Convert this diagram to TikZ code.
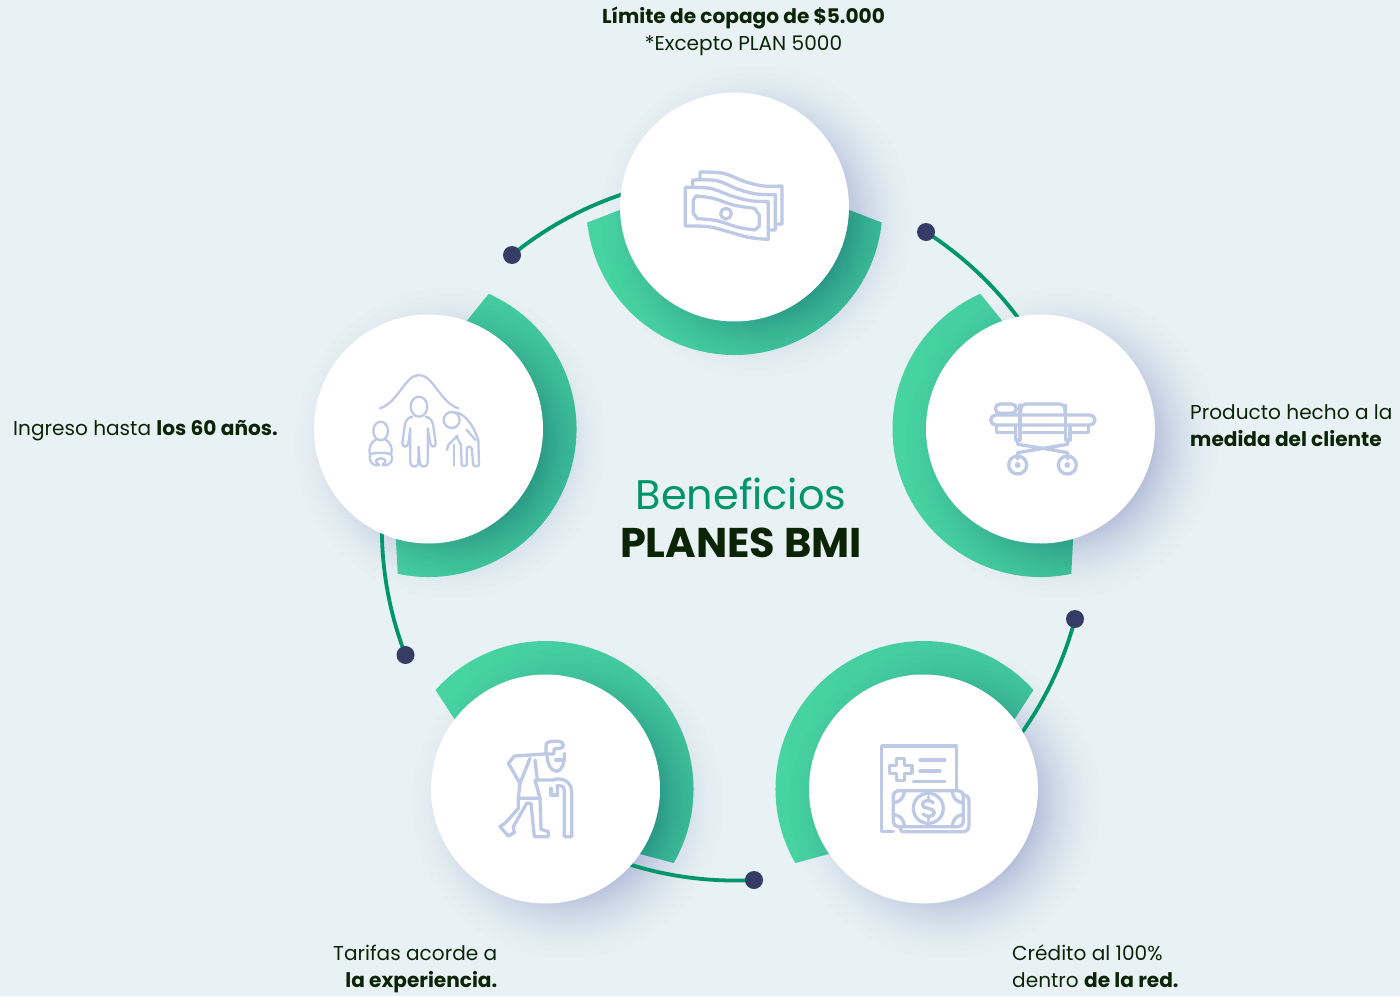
\documentclass[tikz,border=0pt]{standalone}
\usepackage{fontspec}
\setmainfont{Poppins}
\usetikzlibrary{calc}
\definecolor{bgc}{HTML}{E8F2F4}
\definecolor{greenl}{HTML}{48D4A2}
\definecolor{greenr}{HTML}{42C89E}
\definecolor{linec}{HTML}{00966B}
\definecolor{dotc}{HTML}{353D66}
\definecolor{shadowc}{HTML}{1B2F9F}
\definecolor{ringshade}{HTML}{000041}
\definecolor{icoc}{HTML}{BEC9E6}
\definecolor{inkc}{HTML}{0B2406}
\tikzset{
  disc/.style={circle,fill=white,minimum size=229pt,inner sep=0pt},
  dotn/.style={circle,fill=dotc,minimum size=18pt,inner sep=0pt},
  conn/.style={linec,line width=3.8pt},
  ringg/.style={left color=greenl,right color=greenr,draw=none},
  ico/.style={icoc,line width=3.3pt,line cap=round,line join=round},
  icothin/.style={icoc,line width=2.3pt,line cap=round,line join=round},
  lab/.style={font=\fontsize{20.1}{24}\selectfont,text=inkc,inner sep=0pt},
}
\newcommand{\ringpath}[3]{($(#1)+(#2:148)$) arc[start angle=#2,end angle=#3,radius=148]
     -- ($(#1)+({#3+8}:98)$) arc[start angle={#3+8},end angle={#2-8},radius=98] -- cycle}
\newcommand{\shadowat}[2]{%
  \foreach \i in {1,...,25}{\pgfmathsetmacro{\r}{172-82*sqrt(\i/25)}\fill[#2,opacity=.0078] ($(#1)+(22,14)$) circle[radius=\r];}
}
\newcommand{\ringat}[3]{%
  \path[ringg] \ringpath{#1}{#2}{#3};
  \begin{scope}\clip \ringpath{#1}{#2}{#3};\shadowat{#1}{ringshade}\end{scope}
}
\begin{document}
\begin{tikzpicture}[x=1pt,y=-1pt]
\useasboundingbox (0,0) rectangle (1400,996);
\fill[bgc] (0,0) rectangle (1400,996);
\coordinate (p1) at (734.5,207);
\coordinate (p2) at (1040.5,429);
\coordinate (p3) at (923.5,789);
\coordinate (p4) at (545.5,789);
\coordinate (p5) at (428.5,429);
\coordinate (d1) at (512,255);
\coordinate (d2) at (926,232);
\coordinate (d3) at (1075,619);
\coordinate (d4) at (754,880);
\coordinate (d5) at (405.5,655);
\shadowat{p1}{shadowc}\shadowat{p2}{shadowc}\shadowat{p3}{shadowc}\shadowat{p4}{shadowc}\shadowat{p5}{shadowc}
\ringat{p1}{6}{174}
\ringat{p2}{78}{246}
\ringat{p3}{150}{318}
\ringat{p4}{222}{390}
\ringat{p5}{-66}{102}
\draw[conn] (d1) arc[start angle=230.9,end angle=262,radius=353];
\draw[conn] (d2) arc[start angle=302.7,end angle=334,radius=353];
\draw[conn] (d3) arc[start angle=14.8,end angle=46,radius=353];
\draw[conn] (d4) arc[start angle=86.9,end angle=118,radius=353];
\draw[conn] (d5) arc[start angle=158.9,end angle=190,radius=353];
\node[disc] (c1) at (p1) {};
\node[disc] (c2) at (p2) {};
\node[disc] (c3) at (p3) {};
\node[disc] (c4) at (p4) {};
\node[disc] (c5) at (p5) {};
\node[dotn] (n1) at (d1) {};
\node[dotn] (n2) at (d2) {};
\node[dotn] (n3) at (d3) {};
\node[dotn] (n4) at (d4) {};
\node[dotn] (n5) at (d5) {};
% money
\begin{scope}[shift={(660,150)},x=.3333pt,y=-.3333pt]
\draw[ico] plot[smooth,tension=.55] coordinates {(76,112)(150,115)(215,138)(270,152)(325,155)} -- (325,268)
  -- plot[smooth,tension=.55] coordinates {(325,268)(265,262)(205,245)(145,230)(76,228)} -- cycle;
\draw[ico] plot[smooth,tension=.55] coordinates {(108,138)(160,145)(220,165)(283,175)} -- (298,195) -- (298,228) -- (285,240)
  -- plot[smooth,tension=.55] coordinates {(285,240)(235,232)(170,212)(112,206)} -- (100,190) -- (100,150) -- cycle;
\draw[ico] (198,191) circle[radius=16];
\draw[ico] (98,108) -- (98,90) -- plot[smooth,tension=.55] coordinates {(98,90)(170,92)(235,118)(290,132)(346,134)} -- (346,240) -- (327,240);
\draw[ico] (120,88) -- (120,66) -- plot[smooth,tension=.55] coordinates {(120,66)(190,70)(255,95)(310,108)(366,108)} -- (366,222) -- (347,222);
\end{scope}
% stretcher
\begin{scope}[shift={(975,385)},x=.3333pt,y=-.3333pt]
\draw[ico] (75,57) -- (110,57) arc[start angle=-90,end angle=90,radius=14] -- (75,85) arc[start angle=90,end angle=270,radius=14];
\draw[ico] (137,88) -- (137,72) arc[start angle=180,end angle=270,radius=15] -- (255,57) arc[start angle=270,end angle=360,radius=15] -- (270,88);
\draw[ico] (62,90) -- (345,90) arc[start angle=-90,end angle=90,radius=15] -- (62,120) arc[start angle=90,end angle=270,radius=15];
\draw[ico] (65,122) -- (65,143) -- (122,143);
\draw[ico] (340,122) -- (340,143) -- (285,143);
\draw[ico] (122,120) -- (122,165) -- (135,165) -- (135,60);
\draw[ico] (272,60) -- (272,165) -- (285,165) -- (285,120);
\draw[ico] (135,143) -- (272,143);
\draw[ico] (128,165) -- (128,178) -- (205,190) -- (128,203) -- (128,222);
\draw[ico] (278,165) -- (278,178) -- (205,190) -- (278,203) -- (278,222);
\draw[ico] (128,240) circle[radius=27];
\draw[ico] (277,240) circle[radius=27];
\fill[icoc] (128,240) circle[radius=9];
\fill[icoc] (277,240) circle[radius=9];
\end{scope}
% document and money
\begin{scope}[shift={(865,730)},x=.3333pt,y=-.3333pt]
\draw[ico] (85,305) -- (50,305) -- (50,48) -- (275,48) -- (275,178);
\draw[ico] (95,85) -- (119,85) -- (119,106) -- (141,106) -- (141,130) -- (119,130) -- (119,152) -- (95,152) -- (95,130) -- (73,130) -- (73,106) -- (95,106) -- cycle;
\draw[ico] (165,90) -- (240,90) (165,123) -- (225,123) (145,155) -- (240,155);
\draw[ico] (100,182) -- (280,182) arc[start angle=-90,end angle=0,radius=15] -- (295,275) arc[start angle=0,end angle=90,radius=15] -- (100,290) arc[start angle=90,end angle=180,radius=15] -- (85,197) arc[start angle=180,end angle=270,radius=15];
\draw[ico] (295,195) .. controls (305,195) and (312,202) .. (312,212) -- (312,285) .. controls (312,298) and (305,305) .. (295,305) -- (110,305) -- (105,292);
\draw[ico] (190,235) circle[radius=45];
\draw[ico] (205,218) .. controls (195,208) and (172,210) .. (172,224) .. controls (172,238) and (208,232) .. (208,247) .. controls (208,262) and (184,262) .. (174,252);
\draw[ico] (190,200) -- (190,208) (190,262) -- (190,270);
\draw[ico] (88,218) .. controls (104,216) and (116,204) .. (118,186);
\draw[ico] (292,218) .. controls (276,216) and (264,204) .. (262,186);
\draw[ico] (88,254) .. controls (104,256) and (116,268) .. (118,286);
\draw[ico] (292,254) .. controls (276,256) and (264,268) .. (262,286);
\end{scope}
% elder
\begin{scope}[shift={(485,730)},x=.3333pt,y=-.3333pt]
\draw[ico] (183,72) -- (183,48) .. controls (183,38) and (190,34) .. (198,34) -- (222,34) .. controls (238,34) and (240,56) .. (222,56) -- (208,56) -- (206,72) -- (183,72);
\draw[ico] (186,78) .. controls (188,100) and (195,122) .. (215,124) .. controls (232,122) and (238,100) .. (238,70);
\draw[ico] (212,90) -- (238,90);
\draw[ico] (180,72) -- (88,78) -- (70,100) -- (105,160) -- (135,85);
\draw[ico] (105,160) -- (100,205) -- (165,205);
\draw[ico] (150,90) -- (157,150) -- (205,150);
\draw[ico] (150,150) -- (165,205);
\draw[ico] (205,150) .. controls (230,140) and (260,155) .. (260,185) -- (260,320) -- (238,320) -- (238,180) .. controls (238,168) and (225,165) .. (215,168);
\draw[ico] (198,175) -- (198,195) -- (218,195) -- (218,172);
\draw[ico] (100,205) -- (100,235) -- (62,278) -- (45,290) -- (70,318) -- (88,308) -- (85,290) -- (125,220) -- (138,220) -- (148,320) -- (190,320) -- (190,305) -- (168,298) -- (165,205);
\end{scope}
% family
\begin{scope}[shift={(355,365)},x=.3333pt,y=-.3333pt]
\draw[icothin] (75,130) .. controls (130,112) and (150,30) .. (192,30) .. controls (235,30) and (255,112) .. (310,130);
\draw[icothin] (192,125) ellipse[x radius=25,y radius=30];
\draw[icothin] (172,155) .. controls (155,158) and (150,170) .. (148,190) -- (142,235) .. controls (142,248) and (158,248) .. (160,235) -- (166,190) -- (166,290) .. controls (166,310) and (190,310) .. (190,290) -- (191,245) -- (194,290) .. controls (194,310) and (218,310) .. (218,290) -- (218,190) -- (226,235) .. controls (228,248) and (242,248) .. (242,235) -- (236,190) .. controls (234,170) and (228,158) .. (212,155);
\draw[icothin] (77,198) ellipse[x radius=22,y radius=28];
\draw[icothin] (62,224) .. controls (45,232) and (40,255) .. (45,268) .. controls (40,285) and (50,305) .. (72,300) .. controls (62,290) and (55,285) .. (77,280) .. controls (100,285) and (92,290) .. (82,300) .. controls (105,305) and (118,285) .. (108,268) .. controls (114,255) and (108,232) .. (92,224);
\draw[icothin] (45,268) .. controls (60,262) and (95,262) .. (108,268);
\draw[icothin] (290,165) circle[radius=24];
\draw[icothin] (300,142) .. controls (330,145) and (355,180) .. (370,225) -- (372,300) .. controls (370,305) and (358,305) .. (355,300) -- (350,250) .. controls (345,240) and (335,245) .. (335,255) -- (335,300) .. controls (330,305) and (322,305) .. (320,300) -- (318,240) -- (305,215);
\draw[icothin] (308,212) -- (280,240) -- (276,255);
\draw[icothin] (298,240) -- (298,302);
\draw[icothin] (335,195) -- (362,225);
\end{scope}
% labels
\node[lab,anchor=base] (t1) at (743.5,23) {\bfseries Límite de copago de \$5.000};
\node[lab,anchor=base] (t2) at (743.5,50) {*Excepto PLAN 5000};
\node[lab,anchor=base west] (t3) at (1190,419) {Producto hecho a la};
\node[lab,anchor=base west] (t4) at (1190,446) {\bfseries medida del cliente};
\node[lab,anchor=base west] (t5) at (1012,960) {Crédito al 100\%};
\node[lab,anchor=base west] (t6) at (1012,987) {dentro \textbf{de la red.}};
\node[lab,anchor=base east] (t7) at (497.5,960) {Tarifas acorde a};
\node[lab,anchor=base east] (t8) at (497.5,987) {\bfseries la experiencia.};
\node[lab,anchor=base west] (t9) at (13,435) {Ingreso hasta \textbf{los 60 años.}};
\node[anchor=base,inner sep=0pt,text=linec,font=\fontsize{41.4}{48}\selectfont] (t10) at (741,509) {Beneficios};
\node[anchor=base,inner sep=0pt,text=inkc,font=\bfseries\fontsize{41.5}{48}\selectfont] (t11) at (741,557) {PLANES BMI};
\end{tikzpicture}
\end{document}
